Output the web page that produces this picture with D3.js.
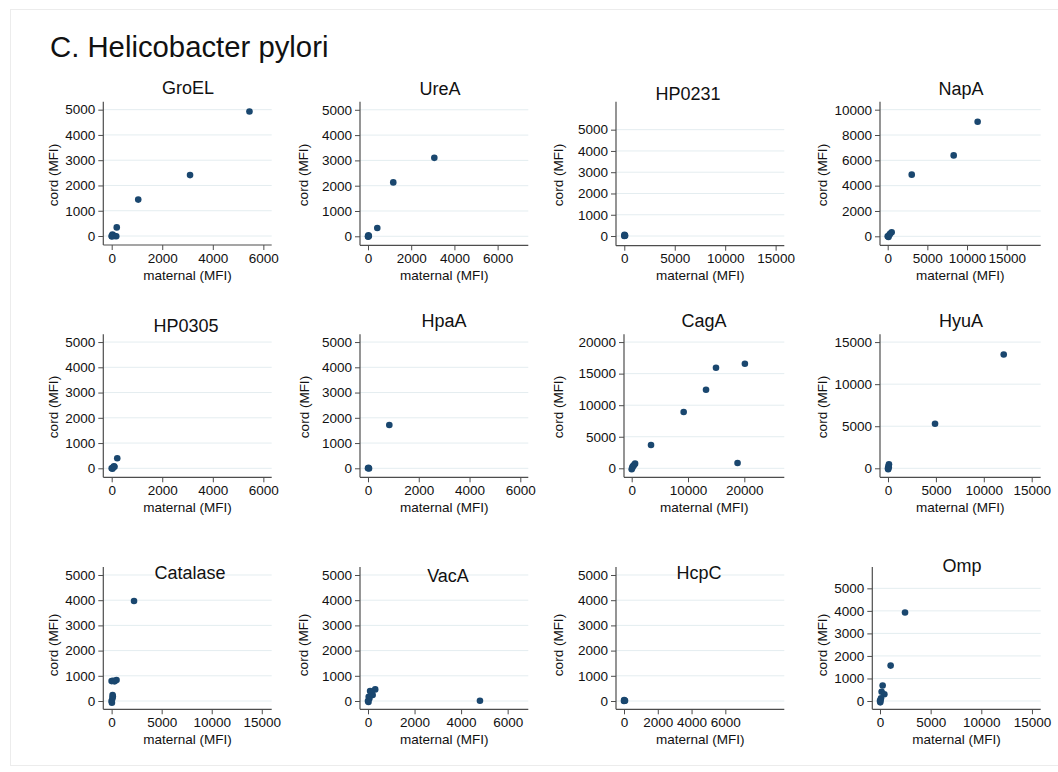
<!DOCTYPE html>
<html>
<head>
<meta charset="utf-8">
<script src="https://cdn.jsdelivr.net/npm/d3@7"></script>
<style>
  body { margin: 0; background: #fff; }
  svg { display: block; font-family: "Liberation Sans", Arial, Helvetica, sans-serif; }
</style>
</head>
<body>
<svg id="chart" width="1058" height="772"></svg>
<script>
// Antibody levels (MFI): maternal vs cord, one panel per H. pylori antigen.
const antigens = ["GroEL", "UreA", "HP0231", "NapA", "HP0305", "HpaA", "CagA", "HyuA", "Catalase", "VacA", "HcpC", "Omp"];

// [maternal, cord] pairs per antigen
const GroEL    = [[5450,4930],[3100,2410],[1050,1440],[200,340],[0,0],[30,60],[60,20],[120,0],[180,-10],[10,-20]];
const UreA     = [[3070,3100],[1170,2130],[430,330],[0,0],[20,40],[40,10],[10,-20]];
const HP0231   = [[0,0],[50,30],[20,60],[80,10]];
const NapA     = [[11340,9050],[8320,6390],[3030,4870],[500,320],[300,200],[0,0],[100,-50],[200,100]];
const HP0305   = [[220,400],[90,80],[50,30],[0,0],[30,-20],[110,60]];
const HpaA     = [[840,1715],[0,0],[20,20],[40,-10]];
const CagA     = [[20100,16570],[14970,15940],[13200,12450],[9230,8920],[3430,3690],[18800,840],[600,740],[400,500],[200,300],[100,100],[0,-150]];
const HyuA     = [[12080,13530],[4910,5300],[100,470],[50,250],[0,0],[80,120],[20,-100]];
const Catalase = [[2240,3970],[490,830],[300,780],[150,800],[0,790],[100,240],[80,100],[0,0],[30,-70],[120,180]];
const VacA     = [[4810,10],[310,460],[90,400],[200,240],[60,100],[0,0],[30,170],[160,300],[20,-40]];
const HcpC     = [[0,0],[30,20],[60,10],[10,40]];
const Omp      = [[2470,3930],[1050,1570],[260,690],[160,410],[430,300],[100,120],[0,0],[30,-60],[50,40]];

const pointsByAntigen = { GroEL, UreA, HP0231, NapA, HP0305, HpaA, CagA, HyuA, Catalase, VacA, HcpC, Omp };

// Tick values per panel
const xTicks = {
  GroEL: [0,2000,4000,6000], UreA: [0,2000,4000,6000], HP0231: [0,5000,10000,15000], NapA: [0,5000,10000,15000],
  HP0305: [0,2000,4000,6000], HpaA: [0,2000,4000,6000], CagA: [0,10000,20000], HyuA: [0,5000,10000,15000],
  Catalase: [0,5000,10000,15000], VacA: [0,2000,4000,6000], HcpC: [0,2000,4000,6000], Omp: [0,5000,10000,15000]
};
const yTicks = {
  GroEL: [0,1000,2000,3000,4000,5000], UreA: [0,1000,2000,3000,4000,5000], HP0231: [0,1000,2000,3000,4000,5000],
  NapA: [0,2000,4000,6000,8000,10000], HP0305: [0,1000,2000,3000,4000,5000], HpaA: [0,1000,2000,3000,4000,5000],
  CagA: [0,5000,10000,15000,20000], HyuA: [0,5000,10000,15000], Catalase: [0,1000,2000,3000,4000,5000],
  VacA: [0,1000,2000,3000,4000,5000], HcpC: [0,1000,2000,3000,4000,5000], Omp: [0,1000,2000,3000,4000,5000]
};

// Panel geometry: plot box in pixels, axis ranges, title / axis-label anchors
const layout = {
  GroEL:    { box:[103.3,271.7,101.7,245.0], xd:[-332,6330],  yd:[-356,5315],   title:[188,88],  ylab:[53,175] },
  UreA:     { box:[360.0,528.3,101.7,245.3], xd:[-370,7420],  yd:[-356,5320],   title:[440,89],  ylab:[303,175] },
  HP0231:   { box:[616.0,784.3,101.7,245.7], xd:[-822,15860], yd:[-455,6315],   title:[688,94],  ylab:[558,175] },
  NapA:     { box:[880.0,1040.7,101.7,245.3],xd:[-971,19290], yd:[-711,10630],  title:[961,89],  ylab:[822,175] },
  HP0305:   { box:[103.3,271.7,334.3,477.3], xd:[-332,6330],  yd:[-356,5307],   title:[186,326], ylab:[53,407] },
  HpaA:     { box:[360.0,528.3,334.3,477.3], xd:[-315,6315],  yd:[-356,5307],   title:[444,321], ylab:[304,407] },
  CagA:     { box:[624.0,784.3,334.3,477.3], xd:[-1368,27100],yd:[-1425,21232], title:[704,321], ylab:[558,407] },
  HyuA:     { box:[880.0,1040.7,334.3,477.3],xd:[-835,15940], yd:[-1069,15926], title:[961,321], ylab:[822,407] },
  Catalase: { box:[103.3,271.7,567.0,709.3], xd:[-831,15994], yd:[-329,5317],   title:[190,573], ylab:[53,645] },
  VacA:     { box:[360.0,528.3,567.0,709.3], xd:[-344,6887],  yd:[-329,5317],   title:[448,576], ylab:[303,645] },
  HcpC:     { box:[616.0,784.3,567.0,709.3], xd:[-474,9491],  yd:[-329,5317],   title:[699,573], ylab:[558,645] },
  Omp:      { box:[872.3,1040.7,567.0,709.3],xd:[-760,15864], yd:[-369,5947],   title:[962,566], ylab:[822,645] }
};

const dotColor = "#1a476f";
const axisColor = "#4d4d4d";
const gridColor = "#e4edf0";
const textColor = "#111";

const svg = d3.select("#chart");

svg.append("rect").attr("x", 0).attr("y", 0).attr("width", 1058).attr("height", 772).attr("fill", "#fff");

// faint outer frame of the figure region
svg.append("rect")
  .attr("x", 10.5).attr("y", 9.5).attr("width", 1070).attr("height", 756)
  .attr("fill", "none").attr("stroke", "#ececec").attr("stroke-width", 1);

svg.append("text")
  .attr("x", 50).attr("y", 57)
  .attr("font-size", 29.3)
  .attr("fill", textColor)
  .text("C. Helicobacter pylori");

antigens.forEach(name => {
  const L = layout[name];
  const [left, right, top, bottom] = L.box;
  const x = d3.scaleLinear().domain(L.xd).range([left, right]);
  const y = d3.scaleLinear().domain(L.yd).range([bottom, top]);
  const g = svg.append("g");

  // horizontal grid lines
  g.selectAll("line.grid").data(yTicks[name]).join("line")
    .attr("x1", left).attr("x2", right)
    .attr("y1", d => y(d)).attr("y2", d => y(d))
    .attr("stroke", gridColor).attr("stroke-width", 1);

  // axes
  const yAxis = d3.axisLeft(y).tickValues(yTicks[name]).tickSize(5).tickPadding(3).tickFormat(d3.format("d"));
  const xAxis = d3.axisBottom(x).tickValues(xTicks[name]).tickSize(5).tickPadding(3).tickFormat(d3.format("d"));

  const ya = g.append("g").attr("transform", `translate(${left},0)`).call(yAxis);
  const xa = g.append("g").attr("transform", `translate(0,${bottom})`).call(xAxis);
  [ya, xa].forEach(a => {
    a.select(".domain").attr("stroke", axisColor).attr("stroke-width", 1.2);
    a.selectAll(".tick line").attr("stroke", axisColor).attr("stroke-width", 1);
    a.selectAll(".tick text").attr("fill", textColor).attr("font-size", 13.5)
      .attr("font-family", "'Liberation Sans', Arial, sans-serif");
  });
  // axis line spans full plot box
  ya.select(".domain").attr("d", `M0,${top}V${bottom}`);
  xa.select(".domain").attr("d", `M${left},0H${right}`);

  // points
  g.selectAll("circle").data(pointsByAntigen[name]).join("circle")
    .attr("cx", d => x(d[0])).attr("cy", d => y(d[1]))
    .attr("r", 3.3).attr("fill", dotColor);

  // title
  g.append("text")
    .attr("x", L.title[0]).attr("y", L.title[1]).attr("dy", "0.35em")
    .attr("text-anchor", "middle").attr("font-size", 18).attr("fill", textColor)
    .text(name);

  // axis titles
  g.append("text")
    .attr("x", (left + right) / 2).attr("y", bottom + 30).attr("dy", "0.35em")
    .attr("text-anchor", "middle").attr("font-size", 13.5).attr("fill", textColor)
    .text("maternal (MFI)");
  g.append("text")
    .attr("transform", `translate(${L.ylab[0]},${L.ylab[1]}) rotate(-90)`)
    .attr("dy", "0.35em")
    .attr("text-anchor", "middle").attr("font-size", 13.5).attr("fill", textColor)
    .text("cord (MFI)");
});
</script>
</body>
</html>
